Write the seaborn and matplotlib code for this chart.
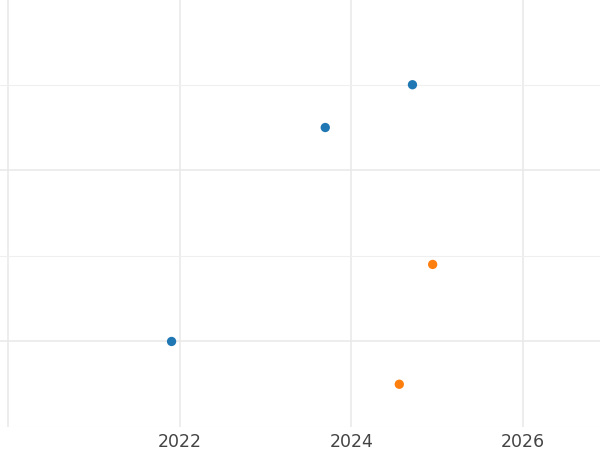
import pandas as pd
import matplotlib.pyplot as plt
from matplotlib.ticker import MultipleLocator, NullFormatter
import seaborn as sns

dates = ["2021-11-27", "2023-09-12", "2024-09-17", "2024-12-12", "2024-07-23"]
values = [0, 12.5, 15, 4.5, -2.5]
groups = ["A", "A", "A", "B", "B"]
palette = {"A": "#1f77b4", "B": "#ff7f0e"}
tick_years = ["2020", "2022", "2024", "2026"]
tick_labels = ["", "2022", "2024", "2026"]

df = pd.DataFrame({"date": pd.to_datetime(dates), "value": values, "group": groups})

sns.set_style("white")
fig = plt.figure(figsize=(6, 4.5), dpi=100)
ax = fig.add_axes([0, 0.051, 1, 0.949])

sns.scatterplot(data=df, x="date", y="value", hue="group", palette=palette,
                s=45, edgecolor="none", legend=False, ax=ax, zorder=3)

ax.set_xlim(pd.Timestamp("2019-11-28"), pd.Timestamp("2026-11-24"))
ax.set_ylim(-5, 19.95)
ax.set_xticks(pd.to_datetime([y + "-01-01" for y in tick_years]))
ax.set_xticklabels(tick_labels)
ax.yaxis.set_major_locator(MultipleLocator(10))
ax.yaxis.set_minor_locator(MultipleLocator(5))
ax.yaxis.set_major_formatter(NullFormatter())

ax.grid(True, which="major", color="#e8e8e8", linewidth=1.1)
ax.grid(True, which="minor", axis="y", color="#efefef", linewidth=0.8)
ax.tick_params(axis="both", which="both", length=0, labelsize=12.5, colors="#444444", pad=4)
for s in ax.spines.values():
    s.set_visible(False)
ax.set_xlabel("")
ax.set_ylabel("")

fig.savefig("out.png", dpi=100)
